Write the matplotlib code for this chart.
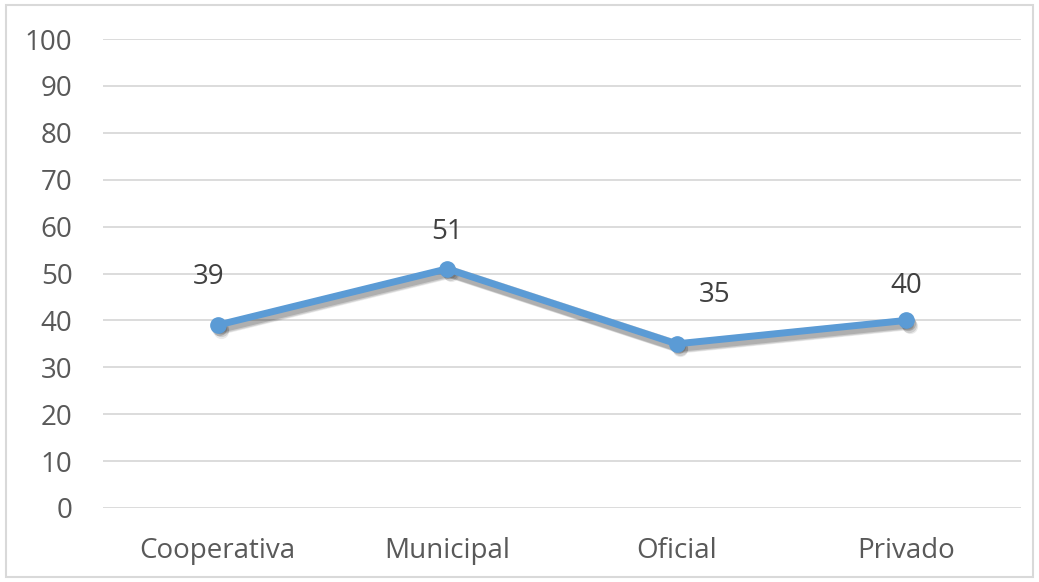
import matplotlib.pyplot as plt
import matplotlib.transforms as mtransforms
from matplotlib.patches import Rectangle

plt.rcParams['font.family'] = ['Open Sans', 'DejaVu Sans']

categorias = ['Cooperativa', 'Municipal', 'Oficial', 'Privado']
valores = [39, 51, 35, 40]
yticks = list(range(0, 101, 10))
# desplazamiento de cada etiqueta de dato (puntos)
offsets = [(-6.5, 34.5), (0, 26.5), (27, 35), (0, 25)]

fig = plt.figure(figsize=(10.39, 5.82), dpi=100)
ax = fig.add_axes([103 / 1039, 1 - 508 / 582, 918 / 1039, 469 / 582])

x = list(range(len(categorias)))

# sombra difusa debajo de la linea
for k, (dx, dy, a) in enumerate([(2.5, -4.0, 0.08), (2.0, -3.0, 0.12), (1.2, -1.8, 0.15)]):
    tr = ax.transData + mtransforms.ScaledTranslation(dx / 72, dy / 72, fig.dpi_scale_trans)
    ax.plot(x, valores, color='black', alpha=a, lw=6 + k, marker='o', ms=11,
            mec='none', transform=tr, zorder=2, solid_capstyle='round')

ax.plot(x, valores, color='#5B9BD5', lw=5, marker='o', ms=11,
        solid_capstyle='round', solid_joinstyle='round', zorder=3)

for i, v in enumerate(valores):
    ax.annotate(str(v), (i, v), xytext=offsets[i], textcoords='offset points',
                ha='center', va='center', fontsize=20, color='#404040')

ax.set_xlim(-0.5, len(categorias) - 0.5)
ax.set_ylim(0, 100)
ax.set_yticks(yticks)
ax.set_xticks(x)
ax.set_xticklabels(categorias)
ax.grid(axis='y', color='#D9D9D9', lw=1.3)
ax.set_axisbelow(True)
for s in ax.spines.values():
    s.set_visible(False)
ax.tick_params(length=0, labelsize=20, labelcolor='#595959')
ax.tick_params(axis='y', pad=22)
ax.tick_params(axis='x', pad=21)

fig.patches.append(Rectangle((6 / 1039, 5 / 582), 1 - 12 / 1039, 1 - 10 / 582,
                             transform=fig.transFigure, fill=False,
                             edgecolor='#D9D9D9', lw=1.5))

fig.savefig('out.png', dpi=100)
